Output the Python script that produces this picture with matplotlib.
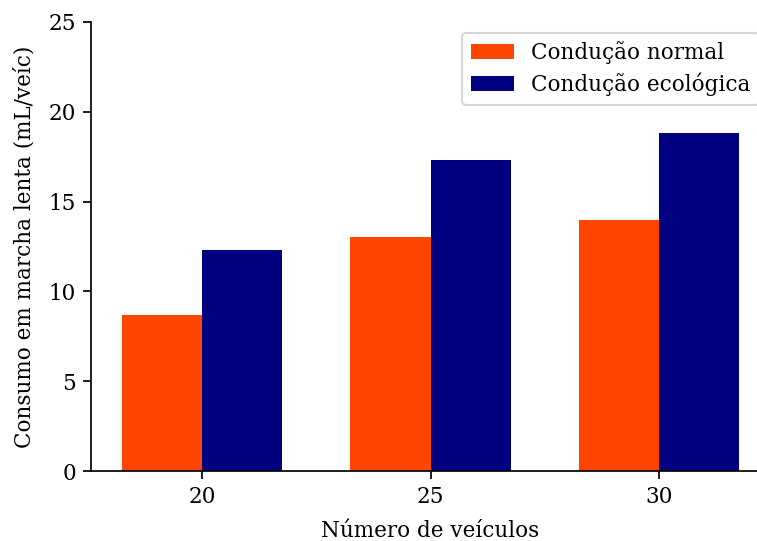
import matplotlib
matplotlib.use("Agg")
import matplotlib.pyplot as plt
import numpy as np

plt.rcParams['font.family'] = ['DejaVu Serif']

categories = ["20", "25", "30"]
normal = [8.7, 13.05, 14.0]
eco = [12.3, 17.32, 18.82]
series_labels = ["Condução normal", "Condução ecológica"]

W, H = 757, 541
DPI = 155
fig = plt.figure(figsize=(W/DPI, H/DPI), dpi=DPI)
ax = fig.add_axes([91/W, 1-471/H, (770-91)/W, (471-22)/H])

x = np.arange(len(categories))
w = 0.35
ax.bar(x - w/2, normal, w, color='orangered', label=series_labels[0])
ax.bar(x + w/2, eco, w, color='navy', label=series_labels[1])
ax.set_xticks(x)
ax.set_xticklabels(categories)
ax.set_ylim(0, 25)
ax.set_yticks([0, 5, 10, 15, 20, 25])
ax.spines['top'].set_visible(False)
ax.spines['right'].set_visible(False)
ax.set_xlabel("Número de veículos", fontsize=10, labelpad=5.5)
ax.set_ylabel("Consumo em marcha lenta (mL/veíc)", fontsize=10, labelpad=6)
ax.tick_params(labelsize=10)
ax.legend(fontsize=10, loc='upper right', labelspacing=0.4)
fig.savefig("out.png", dpi=DPI)
